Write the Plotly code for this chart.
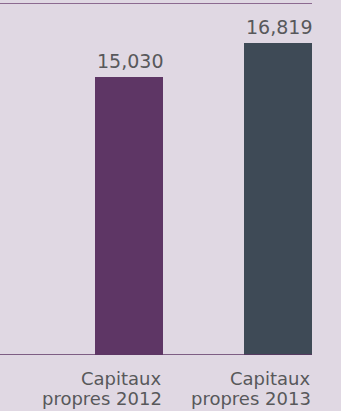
import plotly.graph_objects as go

# Equity figures (thousands)
categories = [["Capitaux", "propres 2012"], ["Capitaux", "propres 2013"]]
values = [15030, 16819]
value_labels = ["15,030", "16,819"]
bar_colors = ["#5e3665", "#3e4a56"]

BG = "#e0d8e3"
TEXT = "#58585b"
FONT = "'DejaVu Sans', sans-serif"
BAR_W = 0.456
Y_MAX = 19000

x_pos = list(range(len(categories)))

fig = go.Figure(
    go.Bar(
        x=x_pos,
        y=values,
        width=BAR_W,
        marker=dict(color=bar_colors, line=dict(width=0)),
        hoverinfo="skip",
    )
)

annotations = []
for i, (v, lab, cat) in enumerate(zip(values, value_labels, categories)):
    right = i + BAR_W / 2
    annotations.append(dict(
        x=right, y=v, xref="x", yref="y", text=lab, showarrow=False,
        xanchor="right", yanchor="bottom", yshift=3, xshift=2,
        font=dict(family=FONT, size=19, color=TEXT),
    ))
    # two-line category caption, one annotation per line for tight leading
    for k, line in enumerate(cat):
        annotations.append(dict(
            x=right, y=0, xref="x", yref="y", text=line, showarrow=False,
            xanchor="right", yanchor="top", yshift=-11 - 20 * k, xshift=1,
            font=dict(family=FONT, size=18, color=TEXT),
        ))

shapes = [
    dict(type="line", xref="paper", yref="y", x0=0, x1=1, y0=Y_MAX, y1=Y_MAX,
         line=dict(color="#8c6a90", width=2)),
    dict(type="line", xref="paper", yref="y", x0=0, x1=1, y0=0, y1=0,
         line=dict(color="#5e3665", width=1.5)),
]

fig.update_layout(
    width=341, height=411,
    margin=dict(l=0, r=29, t=3, b=56),
    paper_bgcolor=BG, plot_bgcolor=BG,
    showlegend=False,
    xaxis=dict(range=[-0.866, 1 + BAR_W / 2], visible=False, fixedrange=True),
    yaxis=dict(range=[0, Y_MAX], visible=False, fixedrange=True),
    annotations=annotations,
    shapes=shapes,
    bargap=0,
)

fig.write_html("out.html", config={"displayModeBar": False})
